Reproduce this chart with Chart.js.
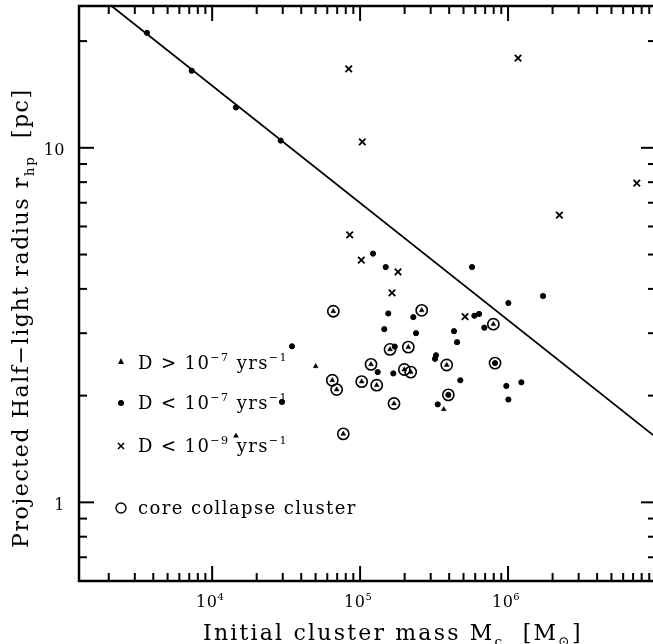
<!DOCTYPE html>
<html>
<head>
<meta charset="utf-8">
<script src="https://cdn.jsdelivr.net/npm/chart.js@4"></script>
<style>
  html, body { margin: 0; padding: 0; background: #fff; overflow: hidden; }
  #plot { position: absolute; left: 0; top: 0; }
</style>
</head>
<body>
<canvas id="plot" width="656" height="644"></canvas>
<script>
// r_hp ~ M^(-1/3) line, endpoints
const lineMass = [1259, 1.0e7];
const lineRadius = [29.7, 1.525];

// D < 1e-7 yrs^-1 (filled circles)
const dotMass = [3625, 7270, 14480, 29050, 122300, 149000, 571000, 1724000, 1005000, 155100,
  228900, 592000, 636800, 145700, 691500, 238800, 431300, 452100, 171400, 326000,
  320900, 34640, 131500, 167700, 475900, 1230000, 974000, 1005000, 334700, 29640,
  816800, 394900];
const dotRadius = [21.1, 16.5, 13.0, 10.48, 5.03, 4.61, 4.61, 3.82, 3.65, 3.41,
  3.33, 3.36, 3.40, 3.08, 3.11, 3.00, 3.04, 2.83, 2.75, 2.60,
  2.54, 2.755, 2.33, 2.31, 2.21, 2.18, 2.13, 1.95, 1.89, 1.92,
  2.47, 2.01];

// D > 1e-7 yrs^-1 (triangles)
const triMass = [50100, 367600, 14480, 65900, 260900, 795600, 159300, 211800, 118500, 199000,
  219900, 385000, 64860, 69450, 102500, 129500, 169500, 76970];
const triRadius = [2.42, 1.83, 1.54, 3.46, 3.48, 3.18, 2.70, 2.74, 2.45, 2.37,
  2.33, 2.44, 2.21, 2.08, 2.19, 2.14, 1.90, 1.56];

// D < 1e-9 yrs^-1 (crosses)
const crossMass = [83740, 1168000, 103500, 7418000, 2223000, 85060, 101900, 180400, 164300, 512000];
const crossRadius = [16.7, 17.9, 10.4, 7.95, 6.46, 5.68, 4.82, 4.47, 3.90, 3.34];

// core collapse clusters (open circles)
const ccMass = [65900, 260900, 795600, 159300, 211800, 118500, 199000, 219900, 385000, 64860,
  69450, 102500, 129500, 169500, 76970, 816800, 394900];
const ccRadius = [3.46, 3.48, 3.18, 2.70, 2.74, 2.45, 2.37, 2.33, 2.44, 2.21,
  2.08, 2.19, 2.14, 1.90, 1.56, 2.47, 2.01];

const xTicks = [1e4, 1e5, 1e6];
const xTickExp = ['4', '5', '6'];
const yTicks = [1, 10];
const yTickLabels = ['1', '10'];

const FONT = 'DejaVu Serif';

function pts(xs, ys) {
  return xs.map((v, i) => ({ x: v, y: ys[i] }));
}

// draws text with sub/superscripts, parts = [[text, 'sup'|'sub'|'']]
function richText(ctx, parts, x, y, size, spacing, measureOnly) {
  let cx = x;
  parts.forEach(([t, k]) => {
    const s = k ? size * 0.62 : size;
    const dy = k === 'sup' ? -size * 0.42 : k === 'sub' ? size * 0.28 : 0;
    ctx.font = s + 'px "' + FONT + '"';
    ctx.letterSpacing = spacing + 'px';
    if (!measureOnly) ctx.fillText(t, cx, y + dy);
    cx += ctx.measureText(t).width;
  });
  return cx - x;
}

const decor = {
  id: 'decor',
  afterDraw(chart) {
    const { ctx, chartArea: a, scales: { x, y } } = chart;
    ctx.save();
    ctx.strokeStyle = '#000';
    ctx.fillStyle = '#000';

    const seg = (x1, y1, x2, y2) => {
      ctx.beginPath(); ctx.moveTo(x1, y1); ctx.lineTo(x2, y2); ctx.stroke();
    };

    // frame
    ctx.lineWidth = 2.5;
    ctx.strokeRect(a.left, a.top, a.right - a.left, a.bottom - a.top);

    // inward tick marks, all four sides
    ctx.lineWidth = 2;
    for (let e = 3; e <= 7; e++) {
      for (let k = 1; k <= 9; k++) {
        const v = k * Math.pow(10, e);
        if (v < x.min || v > x.max) continue;
        const px = x.getPixelForValue(v);
        const len = k === 1 ? 15 : 8;
        seg(px, a.bottom, px, a.bottom - len);
        seg(px, a.top, px, a.top + len);
      }
    }
    for (let e = -1; e <= 1; e++) {
      for (let k = 1; k <= 9; k++) {
        const v = k * Math.pow(10, e);
        if (v < y.min || v > y.max) continue;
        const py = y.getPixelForValue(v);
        const len = k === 1 ? 15 : 8;
        seg(a.left, py, a.left + len, py);
        seg(a.right, py, a.right - len, py);
      }
    }

    // tick labels
    ctx.textBaseline = 'alphabetic';
    ctx.textAlign = 'left';
    xTicks.forEach((v, i) => {
      const parts = [['10', ''], [xTickExp[i], 'sup']];
      const w = richText(ctx, parts, 0, 0, 16, 0.5, true);
      richText(ctx, parts, x.getPixelForValue(v) - w / 2 - 2, a.bottom + 26, 16, 0.5);
    });
    yTicks.forEach((v, i) => {
      const parts = [[yTickLabels[i], '']];
      const w = richText(ctx, parts, 0, 0, 16, 0.5, true);
      richText(ctx, parts, a.left - 14 - w, y.getPixelForValue(v) + 7.5, 16, 0.5);
    });

    // axis titles
    richText(ctx, [['Initial cluster mass M', ''], ['c', 'sub'], ['  [M', ''], ['⊙', 'sub'], [']', '']],
      203, 640, 22, 2.2);

    ctx.save();
    ctx.translate(28, 548);
    ctx.rotate(-Math.PI / 2);
    richText(ctx, [['Projected Half−light radius r', ''], ['hp', 'sub'], ['  [pc]', '']],
      0, 0, 22, 1.6);
    ctx.restore();

    // legend
    const lx = 121, tx = 138;
    ctx.beginPath();
    ctx.moveTo(lx, 358); ctx.lineTo(lx + 3, 364); ctx.lineTo(lx - 3, 364); ctx.closePath(); ctx.fill();
    richText(ctx, [['D > 10', ''], ['−7', 'sup'], [' yrs', ''], ['−1', 'sup']], tx, 369, 18, 1.4);

    ctx.beginPath(); ctx.arc(lx, 403, 3, 0, Math.PI * 2); ctx.fill();
    richText(ctx, [['D < 10', ''], ['−7', 'sup'], [' yrs', ''], ['−1', 'sup']], tx, 409, 18, 1.4);

    ctx.lineWidth = 1.6;
    seg(lx - 3, 443, lx + 3, 449); seg(lx - 3, 449, lx + 3, 443);
    richText(ctx, [['D < 10', ''], ['−9', 'sup'], [' yrs', ''], ['−1', 'sup']], tx, 452, 18, 1.4);

    ctx.lineWidth = 1.4;
    ctx.beginPath(); ctx.arc(lx, 508, 5, 0, Math.PI * 2); ctx.stroke();
    richText(ctx, [['core collapse cluster', '']], tx, 514, 18, 1.4);

    ctx.restore();
  }
};

const ctx = document.getElementById('plot').getContext('2d');
const chart = new Chart(ctx, {
  type: 'scatter',
  data: {
    datasets: [
      {
        type: 'line',
        data: pts(lineMass, lineRadius),
        borderColor: '#000',
        borderWidth: 1.8,
        pointRadius: 0,
        fill: false
      },
      {
        data: pts(dotMass, dotRadius),
        pointStyle: 'circle',
        pointRadius: 2.6,
        backgroundColor: '#000',
        borderColor: '#000',
        borderWidth: 1
      },
      {
        data: pts(triMass, triRadius),
        pointStyle: 'triangle',
        pointRadius: 2.8,
        backgroundColor: '#000',
        borderColor: '#000',
        borderWidth: 0.5
      },
      {
        data: pts(crossMass, crossRadius),
        pointStyle: 'crossRot',
        pointRadius: 4.6,
        borderColor: '#000',
        borderWidth: 1.8
      },
      {
        data: pts(ccMass, ccRadius),
        pointStyle: 'circle',
        pointRadius: 5.6,
        backgroundColor: 'rgba(0,0,0,0)',
        borderColor: '#000',
        borderWidth: 1.6
      }
    ]
  },
  options: {
    responsive: false,
    animation: false,
    layout: { autoPadding: false, padding: { top: 6, right: 0, left: 0, bottom: 0 } },
    plugins: { legend: { display: false }, tooltip: { enabled: false } },
    scales: {
      x: {
        type: 'logarithmic',
        min: Math.pow(10, 3.1),
        max: 1e7,
        grid: { display: false, drawTicks: false },
        border: { display: false },
        afterBuildTicks: s => { s.ticks = xTicks.map(v => ({ value: v })); },
        afterFit: s => { s.height = 63; },
        ticks: { display: false }
      },
      y: {
        type: 'logarithmic',
        min: Math.pow(10, -0.2),
        max: Math.pow(10, 1.4),
        grid: { display: false, drawTicks: false },
        border: { display: false },
        afterBuildTicks: s => { s.ticks = yTicks.map(v => ({ value: v })); },
        afterFit: s => { s.width = 79; },
        ticks: { display: false }
      }
    }
  },
  plugins: [decor]
});
</script>
</body>
</html>
